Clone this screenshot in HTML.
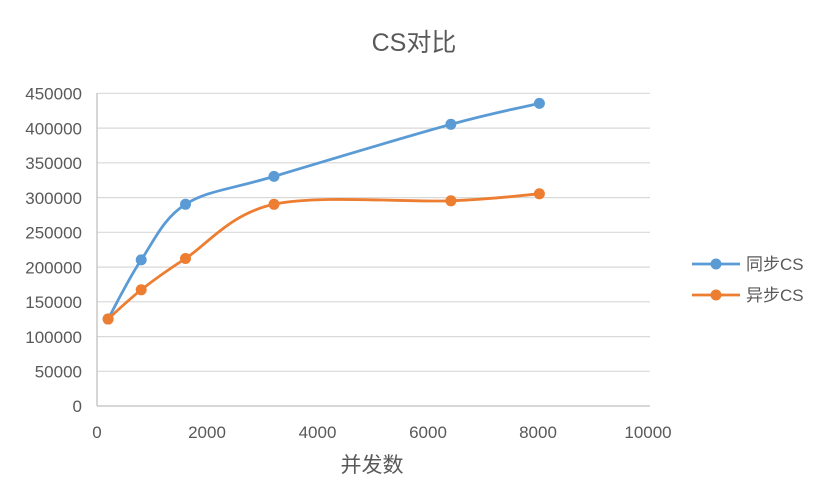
<!DOCTYPE html>
<html><head><meta charset="utf-8"><style>
html,body{margin:0;padding:0;background:#fff;}
svg{display:block;}
text{font-family:"Liberation Sans","Noto Sans CJK SC",sans-serif;fill:#595959;}
</style></head><body>
<svg width="823" height="504" viewBox="0 0 823 504" xmlns="http://www.w3.org/2000/svg">
<rect width="823" height="504" fill="#fff"/>
<text x="414" y="51" font-size="25" text-anchor="middle">CS对比</text>
<g stroke="#d9d9d9" stroke-width="1.2">
<line x1="97" y1="93.3" x2="650" y2="93.3"/>
<line x1="97" y1="128.1" x2="650" y2="128.1"/>
<line x1="97" y1="162.8" x2="650" y2="162.8"/>
<line x1="97" y1="197.6" x2="650" y2="197.6"/>
<line x1="97" y1="232.3" x2="650" y2="232.3"/>
<line x1="97" y1="267.1" x2="650" y2="267.1"/>
<line x1="97" y1="301.8" x2="650" y2="301.8"/>
<line x1="97" y1="336.6" x2="650" y2="336.6"/>
<line x1="97" y1="371.3" x2="650" y2="371.3"/>
</g>
<line x1="97" y1="406" x2="650" y2="406" stroke="#bfbfbf" stroke-width="1.3"/>
<line x1="97" y1="93" x2="97" y2="406" stroke="#bfbfbf" stroke-width="1.3"/>
<g font-size="17" text-anchor="end">
<text x="82" y="99.5">450000</text>
<text x="82" y="134.3">400000</text>
<text x="82" y="169">350000</text>
<text x="82" y="203.8">300000</text>
<text x="82" y="238.5">250000</text>
<text x="82" y="273.3">200000</text>
<text x="82" y="308">150000</text>
<text x="82" y="342.8">100000</text>
<text x="82" y="377.5">50000</text>
<text x="82" y="412.2">0</text>
</g>
<g font-size="17" text-anchor="middle">
<text x="97" y="438">0</text>
<text x="207" y="438">2000</text>
<text x="317.5" y="438">4000</text>
<text x="428" y="438">6000</text>
<text x="538" y="438">8000</text>
<text x="648" y="438">10000</text>
</g>
<text x="372" y="472" font-size="21" text-anchor="middle">并发数</text>

<path d="M108.1,319.05 C113.6,309.2 128.3,279.0 141.2,259.9 C154.1,240.8 163.4,218.2 185.5,204.3 C207.6,190.4 229.8,189.7 274,176.4 C318.2,163.1 406.7,136.5 450.9,124.3 C495.1,112.1 524.7,106.9 539.4,103.4" fill="none" stroke="#5b9bd5" stroke-width="2.8" stroke-linecap="round"/>
<path d="M108.1,319.05 C113.6,314.2 128.3,299.9 141.2,289.8 C154.1,279.7 163.4,272.75 185.5,258.5 C207.6,244.25 229.8,213.9 274,204.3 C318.2,194.7 406.7,202.55 450.9,200.8 C495.1,199.05 524.7,195.0 539.4,193.8" fill="none" stroke="#ed7d31" stroke-width="2.8" stroke-linecap="round"/>
<g fill="#5b9bd5">
<circle cx="108.1" cy="319.05" r="5.5"/>
<circle cx="141.2" cy="259.9" r="5.5"/>
<circle cx="185.5" cy="204.3" r="5.5"/>
<circle cx="274" cy="176.4" r="5.5"/>
<circle cx="450.9" cy="124.3" r="5.5"/>
<circle cx="539.4" cy="103.4" r="5.5"/>
</g>
<g fill="#ed7d31">
<circle cx="108.1" cy="319.05" r="5.5"/>
<circle cx="141.2" cy="289.8" r="5.5"/>
<circle cx="185.5" cy="258.5" r="5.5"/>
<circle cx="274" cy="204.3" r="5.5"/>
<circle cx="450.9" cy="200.8" r="5.5"/>
<circle cx="539.4" cy="193.8" r="5.5"/>
</g>
<line x1="692" y1="264" x2="740" y2="264" stroke="#5b9bd5" stroke-width="2.8"/>
<circle cx="716" cy="264" r="5.5" fill="#5b9bd5"/>
<line x1="692" y1="295" x2="740" y2="295" stroke="#ed7d31" stroke-width="2.8"/>
<circle cx="716" cy="295" r="5.5" fill="#ed7d31"/>
<text x="746" y="270" font-size="17">同步CS</text>
<text x="746" y="301" font-size="17">异步CS</text>
</svg>
</body></html>
